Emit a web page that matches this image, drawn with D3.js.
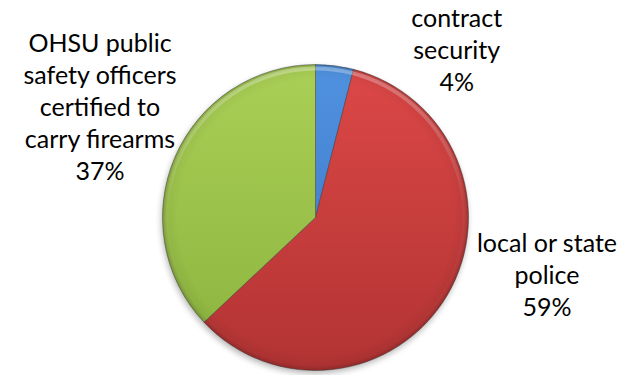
<!DOCTYPE html>
<html>
<head>
<meta charset="utf-8">
<script src="https://cdn.jsdelivr.net/npm/d3@7"></script>
<style>
  html, body { margin: 0; padding: 0; background: #ffffff; }
  svg { display: block; }
  text { font-family: Lato, "Open Sans", sans-serif; fill: #000; }
</style>
</head>
<body>
<div id="chart"></div>
<script>
// Who carries firearms on campus
const categories = ["contract security", "local or state police", "OHSU public safety officers certified to carry firearms"];
const values = [4, 59, 37];
const labelLines = [
  ["contract", "security"],
  ["local or state", "police"],
  ["OHSU public", "safety officers", "certified to", "carry firearms"]
];
const colorsTop = ["#5092e0", "#dc4847", "#aacf56"];
const colorsBottom = ["#3a72c2", "#b23333", "#8bb33d"];

const width = 629, height = 375;
const cx = 315.5, cy = 217.5, r = 153;

const svg = d3.select("#chart").append("svg")
  .attr("width", width).attr("height", height);

const defs = svg.append("defs");

// soft shadow under the pie
const shadow = defs.append("filter").attr("id", "shadow")
  .attr("x", "-20%").attr("y", "-20%").attr("width", "140%").attr("height", "140%");
shadow.append("feGaussianBlur").attr("in", "SourceAlpha").attr("stdDeviation", 3);
shadow.append("feOffset").attr("dx", -1).attr("dy", 3).attr("result", "off");
shadow.append("feComponentTransfer").append("feFuncA").attr("type", "linear").attr("slope", 0.3);

// vertical fill gradient per slice (coordinates relative to the pie centre)
categories.forEach((c, i) => {
  const lg = defs.append("linearGradient").attr("id", "fill" + i)
    .attr("gradientUnits", "userSpaceOnUse")
    .attr("x1", 0).attr("y1", -r).attr("x2", 0).attr("y2", r);
  lg.append("stop").attr("offset", "0%").attr("stop-color", colorsTop[i]);
  lg.append("stop").attr("offset", "100%").attr("stop-color", colorsBottom[i]);
});

// rim shading for the bevelled edge
const rim = defs.append("radialGradient").attr("id", "rim")
  .attr("gradientUnits", "userSpaceOnUse")
  .attr("cx", 0).attr("cy", 0).attr("r", r);
rim.append("stop").attr("offset", "0.9").attr("stop-color", "#000").attr("stop-opacity", 0);
rim.append("stop").attr("offset", "0.97").attr("stop-color", "#000").attr("stop-opacity", 0.05);
rim.append("stop").attr("offset", "1").attr("stop-color", "#000").attr("stop-opacity", 0.2);

// faint highlight along the upper rim
const hl = defs.append("linearGradient").attr("id", "hl")
  .attr("gradientUnits", "userSpaceOnUse")
  .attr("x1", 0).attr("y1", -r).attr("x2", 0).attr("y2", r);
hl.append("stop").attr("offset", "0%").attr("stop-color", "#fff").attr("stop-opacity", 0.3);
hl.append("stop").attr("offset", "45%").attr("stop-color", "#fff").attr("stop-opacity", 0.04);
hl.append("stop").attr("offset", "100%").attr("stop-color", "#fff").attr("stop-opacity", 0);

const pie = d3.pie().sort(null).value(d => d);
const arcs = pie(values);
const arc = d3.arc().innerRadius(0).outerRadius(r);
const rimArc = d3.arc().innerRadius(r - 6).outerRadius(r - 2);

const g = svg.append("g").attr("transform", `translate(${cx},${cy})`);

// shadow disc
g.append("circle").attr("r", r).attr("fill", "#888").attr("filter", "url(#shadow)");

g.selectAll("path.fill").data(arcs).enter().append("path")
  .attr("class", "fill")
  .attr("d", arc)
  .attr("fill", (d, i) => `url(#fill${i})`)
  .attr("stroke", "#3a3a3a")
  .attr("stroke-width", 0.8)
  .attr("stroke-opacity", 0.55);

g.selectAll("path.rim").data(arcs).enter().append("path")
  .attr("class", "rim")
  .attr("d", arc)
  .attr("fill", "url(#rim)");

g.selectAll("path.hl").data(arcs).enter().append("path")
  .attr("class", "hl")
  .attr("d", rimArc)
  .attr("fill", "url(#hl)");

// labels: category text lines plus the share
const pct = d3.format(".0%");
const total = d3.sum(values);
const labelPos = [
  { x: 456.7, y: 26.7 },
  { x: 547, y: 251.7 },
  { x: 100, y: 51.7 }
];
const lineH = 32;
const labels = svg.append("g").attr("font-size", 25).attr("text-anchor", "middle");
arcs.forEach((d, i) => {
  const lines = labelLines[i].concat([pct(values[i] / total)]);
  const t = labels.append("text")
    .attr("x", labelPos[i].x).attr("y", labelPos[i].y);
  lines.forEach((ln, j) => {
    t.append("tspan").attr("x", labelPos[i].x).attr("dy", j === 0 ? 0 : lineH).text(ln);
  });
});
</script>
</body>
</html>
